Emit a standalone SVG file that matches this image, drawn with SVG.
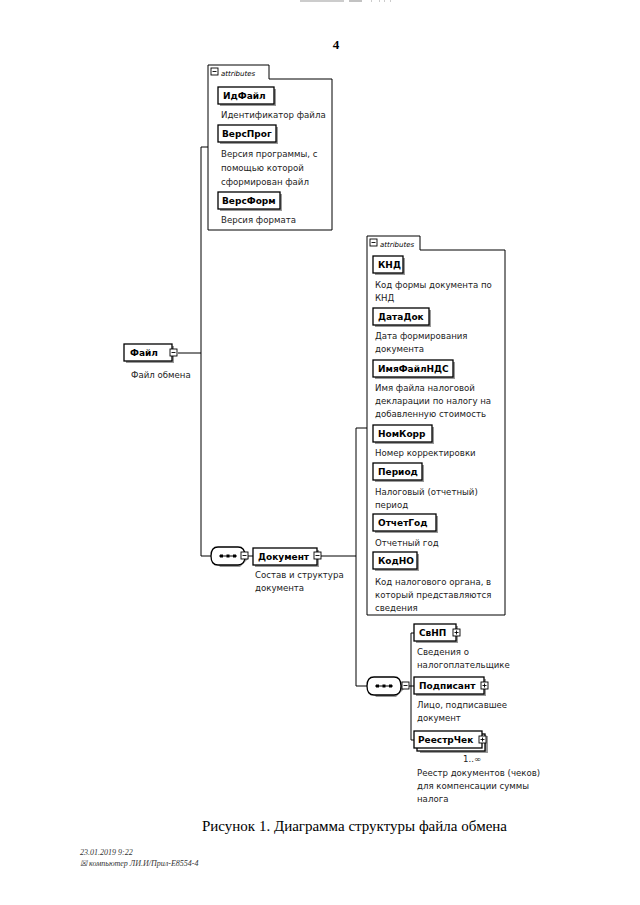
<svg xmlns="http://www.w3.org/2000/svg" width="640" height="905" viewBox="0 0 640 905">
<style>
.bg{fill:#fff}
.ln{fill:none;stroke:#000;stroke-width:1}
.box{fill:#fff;stroke:#000;stroke-width:1.3}
.sh{fill:#9a9a9a}
.grp{fill:none;stroke:#000;stroke-width:1}
.nm{font-family:"DejaVu Sans",Verdana,sans-serif;font-size:9px;font-weight:bold;fill:#000}
.ds{font-family:"DejaVu Sans",Verdana,sans-serif;font-size:8.6px;fill:#222}
.tab{font-family:"DejaVu Sans",Verdana,sans-serif;font-size:7px;font-style:italic;fill:#000}
.sym{fill:#fff;stroke:#000;stroke-width:0.9}
.cap{font-family:"Liberation Serif","Times New Roman",serif;font-size:15px;fill:#000}
.ft{font-family:"Liberation Serif","Times New Roman",serif;font-size:8px;font-style:italic;fill:#333}
</style>
<defs>
<g id="minus"><rect class="sym" x="0" y="0" width="7" height="7"/><line x1="1.5" y1="3.5" x2="5.5" y2="3.5" stroke="#000" stroke-width="0.9"/></g>
<g id="plus"><rect class="sym" x="0" y="0" width="7" height="7"/><line x1="1.5" y1="3.5" x2="5.5" y2="3.5" stroke="#000" stroke-width="0.9"/><line x1="3.5" y1="1.5" x2="3.5" y2="5.5" stroke="#000" stroke-width="0.9"/></g>
<g id="seq"><path class="sh" d="M9,2 H29 L38,11 L29,20 H9 L2,11 Z"/><path class="box" d="M7,0 H27 Q34,0 34,9 Q34,18 27,18 H7 Q0,18 0,9 Q0,0 7,0 Z"/><line x1="8" y1="9" x2="26" y2="9" stroke="#000" stroke-width="1"/><rect x="9" y="7.5" width="3" height="3" fill="#000"/><rect x="15.5" y="7.5" width="3" height="3" fill="#000"/><rect x="22" y="7.5" width="3" height="3" fill="#000"/></g>
</defs>
<rect class="bg" x="0" y="0" width="640" height="905"/>
<g id="header">
<line x1="300" y1="1" x2="344" y2="1" stroke="#999" stroke-width="1.2"/>
<line x1="349" y1="1" x2="362" y2="1" stroke="#999" stroke-width="1.2"/>
<line x1="371" y1="1" x2="372" y2="1" stroke="#999" stroke-width="1.2"/>
<line x1="379" y1="1" x2="380" y2="1" stroke="#999" stroke-width="1.2"/>
<line x1="384" y1="1" x2="385" y2="1" stroke="#999" stroke-width="1.2"/>
<line x1="390" y1="1" x2="391" y2="1" stroke="#999" stroke-width="1.2"/>
<text x="336" y="49" font-family="Liberation Serif, serif" font-size="13" font-weight="bold" text-anchor="middle">4</text>
</g>
<g id="connectors">
<line class="ln" x1="201" y1="147" x2="201" y2="556"/>
<line class="ln" x1="201" y1="147" x2="208" y2="147"/>
<line class="ln" x1="178" y1="353" x2="201" y2="353"/>
<line class="ln" x1="201" y1="556" x2="211" y2="556"/>
<line class="ln" x1="248" y1="556" x2="253" y2="556"/>
<line class="ln" x1="321" y1="556" x2="356" y2="556"/>
<line class="ln" x1="356" y1="428" x2="356" y2="686"/>
<line class="ln" x1="356" y1="428" x2="367" y2="428"/>
<line class="ln" x1="356" y1="686" x2="367" y2="686"/>
<line class="ln" x1="409" y1="686" x2="411" y2="686"/>
<line class="ln" x1="411" y1="633" x2="411" y2="740"/>
<line class="ln" x1="411" y1="633" x2="414" y2="633"/>
<line class="ln" x1="411" y1="686" x2="414" y2="686"/>
<line class="ln" x1="411" y1="740" x2="414" y2="740"/>
</g>
<g id="attrs1">
<path class="grp" d="M208,230 V65 H269 V79 H332 V230 Z"/>
<use href="#minus" x="211" y="68"/>
<text class="tab" x="221" y="76">attributes</text>
</g>
<g id="ИдФайл"><rect class="sh" x="220" y="89" width="56" height="17"/><rect class="box" x="218" y="87" width="56" height="17"/><text class="nm" x="223" y="99">ИдФайл</text><text class="ds" x="221" y="118">Идентификатор файла</text></g>
<g id="ВерсПрог"><rect class="sh" x="220" y="127" width="58" height="17"/><rect class="box" x="218" y="125" width="58" height="17"/><text class="nm" x="222" y="137">ВерсПрог</text><text class="ds" x="221" y="157">Версия программы, с</text><text class="ds" x="221" y="171">помощью которой</text><text class="ds" x="221" y="185">сформирован файл</text></g>
<g id="ВерсФорм"><rect class="sh" x="220" y="194" width="62" height="17"/><rect class="box" x="218" y="192" width="62" height="17"/><text class="nm" x="222" y="204">ВерсФорм</text><text class="ds" x="221" y="223">Версия формата</text></g>
<g id="Файл"><rect class="sh" x="126" y="346" width="48" height="17"/><rect class="box" x="124" y="344" width="48" height="17"/><text class="nm" x="130" y="356">Файл</text><use href="#minus" x="170" y="349"/><text class="ds" x="131" y="378">Файл обмена</text></g>
<g id="seq1"><use href="#seq" x="211" y="547"/><use href="#minus" x="241" y="552"/></g>
<g id="Документ"><rect class="sh" x="255" y="550" width="64" height="17"/><rect class="box" x="253" y="548" width="64" height="17"/><text class="nm" x="258" y="560">Документ</text><use href="#minus" x="314" y="552"/><text class="ds" x="255" y="578">Состав и структура</text><text class="ds" x="255" y="591">документа</text></g>
<g id="attrs2">
<path class="grp" d="M367,615 V236 H420 V250 H505 V615 Z"/>
<use href="#minus" x="370" y="239"/>
<text class="tab" x="380" y="247">attributes</text>
</g>
<g id="КНД"><rect class="sh" x="375" y="258" width="30" height="17"/><rect class="box" x="373" y="256" width="30" height="17"/><text class="nm" x="378" y="268">КНД</text><text class="ds" x="375" y="288">Код формы документа по</text><text class="ds" x="375" y="301">КНД</text></g>
<g id="ДатаДок"><rect class="sh" x="375" y="310" width="56" height="17"/><rect class="box" x="373" y="308" width="56" height="17"/><text class="nm" x="378" y="320">ДатаДок</text><text class="ds" x="375" y="339">Дата формирования</text><text class="ds" x="375" y="352">документа</text></g>
<g id="ИмяФайлНДС"><rect class="sh" x="375" y="362" width="80" height="17"/><rect class="box" x="373" y="360" width="80" height="17"/><text class="nm" x="378" y="372">ИмяФайлНДС</text><text class="ds" x="375" y="391">Имя файла налоговой</text><text class="ds" x="375" y="404">декларации по налогу на</text><text class="ds" x="375" y="417">добавленную стоимость</text></g>
<g id="НомКорр"><rect class="sh" x="375" y="427" width="59" height="17"/><rect class="box" x="373" y="425" width="59" height="17"/><text class="nm" x="378" y="437">НомКорр</text><text class="ds" x="375" y="456">Номер корректировки</text></g>
<g id="Период"><rect class="sh" x="375" y="465" width="49" height="17"/><rect class="box" x="373" y="463" width="49" height="17"/><text class="nm" x="378" y="475">Период</text><text class="ds" x="375" y="495">Налоговый (отчетный)</text><text class="ds" x="375" y="508">период</text></g>
<g id="ОтчетГод"><rect class="sh" x="375" y="516" width="63" height="17"/><rect class="box" x="373" y="514" width="63" height="17"/><text class="nm" x="378" y="526">ОтчетГод</text><text class="ds" x="375" y="546">Отчетный год</text></g>
<g id="КодНО"><rect class="sh" x="375" y="554" width="44" height="17"/><rect class="box" x="373" y="552" width="44" height="17"/><text class="nm" x="378" y="564">КодНО</text><text class="ds" x="375" y="585">Код налогового органа, в</text><text class="ds" x="375" y="598">который представляются</text><text class="ds" x="375" y="611">сведения</text></g>
<g id="seq2"><use href="#seq" x="367" y="677"/><use href="#minus" x="402" y="682"/></g>
<g id="СвНП"><rect class="sh" x="416" y="626" width="42" height="17"/><rect class="box" x="414" y="624" width="42" height="17"/><text class="nm" x="419" y="636">СвНП</text><use href="#plus" x="453" y="629"/><text class="ds" x="417" y="655">Сведения о</text><text class="ds" x="417" y="668">налогоплательщике</text></g>
<g id="Подписант"><rect class="sh" x="416" y="679" width="70" height="17"/><rect class="box" x="414" y="677" width="70" height="17"/><text class="nm" x="419" y="689">Подписант</text><use href="#plus" x="481" y="682"/><text class="ds" x="417" y="708">Лицо, подписавшее</text><text class="ds" x="417" y="721">документ</text></g>
<g id="РеестрЧек"><rect class="sh" x="420" y="736" width="68" height="17"/><rect class="box" x="417" y="734" width="68" height="17"/><rect class="box" x="414" y="731" width="68" height="17"/><text class="nm" x="418" y="743">РеестрЧек</text><use href="#plus" x="479" y="736"/><text class="ds" x="463" y="762" font-size="8">1..∞</text><text class="ds" x="417" y="776">Реестр документов (чеков)</text><text class="ds" x="417" y="789">для компенсации суммы</text><text class="ds" x="417" y="802">налога</text></g>
<g id="caption"><text class="cap" x="202" y="831">Рисунок 1. Диаграмма структуры файла обмена</text></g>
<g id="footer"><text class="ft" x="80" y="855">23.01.2019 9:22</text><text class="ft" x="80" y="866">☒ компьютер ЛИ.И/Прил-Е8554-4</text></g>
</svg>
